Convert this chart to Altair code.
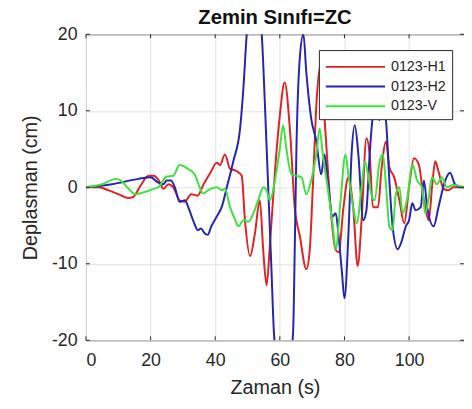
import altair as alt
import pandas as pd

# ---- data ----
series_names = ["0123-H1", "0123-H2", "0123-V"]
series_colors = ["#e02222", "#2424b4", "#3ee23e"]

t_h1 = [0, 4, 7, 10, 13, 14.5, 17, 19.4, 21, 22.5, 24, 25.5, 27, 29, 30.5, 32.6, 34.5, 36.4, 38.5, 40.5,
        41.5, 43, 44.6, 46.7, 48.2, 49.2, 50.8, 52.3, 53.8, 54.9, 55.9, 56.9, 58.5, 60, 61.5, 63.1, 64.6,
        66.2, 68.2, 69.2, 70.3, 71.3, 72.6, 74.1, 75.6, 77.2, 78.2, 79.7, 81.2, 82.7, 84.1, 85.3, 86.8,
        87.8, 88.8, 90.4, 91.4, 92.9, 93.9, 95.4, 97, 98.5, 100, 101.5, 103, 104.6, 106.1, 107.1, 108.1,
        109.1, 110.7, 112.2, 113.7, 117]
v_h1 = [0, 0, -0.4, -0.9, -1.4, -1.3, 0.3, 1.5, 1.5, 0.9, -0.2, 0.4, 0, -1.7, -1.9, -0.9, -1.1, 0.4, 1.9, 3.2,
        2.9, 4.3, 2.4, 2.1, 1.5, -4.3, -9.0, -6.0, -1.7, -8.5, -12.8, -7.7, 2.1, 9.4, 13.7, 7.7, -2.6,
        -6.4, -10.7, -8.5, 0.9, 10.7, 16.0, 7.3, -2.1, -8.1, -8.5, -2.6, 1.3, -2.6, -10.3, -4.3, 6.4,
        4.3, -2.6, -2.6, 2.1, 6.0, 2.6, 1.3, -1.7, -4.7, 0, 3.8, 3.0, -1.7, -4.3, 0, 3.4,
        2.1, -0.2, -0.4, 0, 0]

t_h2 = [0, 8, 16.3, 20, 22.4, 24, 25, 26.3, 27.5, 29, 30.6, 32, 33.6, 34.6, 35.6, 36.7, 37.7, 38.8, 40.5,
        42, 43.6, 45.6, 47.7, 48.7, 49.7, 52.2, 54.4, 55.4, 56.4, 57.4, 58.2, 61.1, 64.1, 64.6, 65.1, 66.2,
        67.3, 68.2, 69.7, 71.3, 72.8, 73.8, 74.8, 76.3, 77.3, 78.2, 79.2, 80, 81.2, 82.2, 83.2, 84.3, 85.8,
        86.8, 87.8, 88.8, 89.6, 90.8, 91.9, 92.9, 93.9, 94.9, 96.5, 97.5, 99, 100, 101, 102, 103.6, 104.6,
        105.6, 107.6, 109.1, 111.2, 112.7, 114.2, 115.7, 117]
v_h2 = [0, 0.4, 1.1, 1.3, 0.6, 0.4, 0.9, 0.9, 0, -1.9, -1.7, -3.0, -4.8, -5.6, -5.4, -6.0, -6.2, -5.1, -3.8,
        -2.6, 0, 3.4, 7.7, 12.8, 19.7, 27.0, 20.0, 10.7, 0, -10.7, -19.2, -29.0, -19.0, -8.5, 4.3, 17.0,
        20.0, 15.0, 9.0, 6.0, 1.7, 4.3, 1.0, -3.8, -3.4, -6.4, -11.0, -14.5, -6.4, 4.3, 8.1, 4.3, -4.3,
        -3.0, 4.3, 9.4, 10.8, 8.8, 10.8, 8.5, 0.9, -5.1, -8.1, -7.3, -5.1, -4.3, -2.1, -3.0, -2.6, 0.9,
        -2.6, -5.1, -2.6, 0.9, 1.9, 0.4, 0, 0]

t_v = [0, 5, 9.2, 10.7, 13.2, 15.3, 18.3, 21, 22.4, 25, 27, 29, 31.6, 33.6, 35, 36.2, 38.5, 40.5, 42, 43,
       44.6, 46.2, 47.2, 48.7, 50.3, 51.8, 53.3, 54.9, 55.9, 56.9, 58.5, 60, 61, 62, 63.6, 65.1, 66.7, 68.2,
       69.7, 71.3, 72.3, 73.3, 74.8, 76.3, 77.3, 78.8, 80.3, 81.2, 82.7, 83.8, 85.3, 86.3, 87.3, 88.3, 89.3,
       90.9, 91.9, 92.9, 93.9, 94.9, 95.9, 97, 98, 99.5, 101, 102.5, 104, 105, 106.1, 107.1, 108.6, 110.2,
       111.7, 113.7, 117]
v_v = [0, 0.4, 1.1, 0.9, -0.2, -0.9, -0.6, -0.2, 0, 1.4, 1.5, 2.9, 2.4, 1.7, 0.2, -0.8, -0.2, 0, -0.4, -0.2,
       -2.6, -4.3, -5.1, -4.3, -4.5, -3.4, -1.7, 0, -0.4, -1.7, 0.9, 5.1, 8.1, 5.1, 1.7, 1.5, 1.3, -0.9,
       0.9, 4.3, 7.7, 4.3, 0, -4.7, -8.1, -1.7, 4.3, 1.7, -2.6, -4.7, 0, 3.4, 1.7, -0.9, -1.7,
       3.4, 4.3, 0, -5.1, -5.6, -0.9, 0, -3.4, -1.3, 3.0, 0.9, 0, -3.4, -1.3, 1.3, 0.4, 1.3,
       0, 0.3, 0]

x_ticks = [0, 20, 40, 60, 80, 100]
y_ticks = [-20, -10, 0, 10, 20]
x_domain = [0, 117]
y_domain = [-20, 20]

title_text = "Zemin Sınıfı=ZC"
x_title = "Zaman (s)"
y_title = "Deplasman (cm)"

# ---- build table ----
frames = []
for name, tt, vv in zip(series_names, [t_h1, t_h2, t_v], [v_h1, v_h2, v_v]):
    frames.append(pd.DataFrame({"t": tt, "d": vv, "s": name}))
df = pd.concat(frames, ignore_index=True)

W, H = 383, 310
FONT = "Liberation Sans"
INK = "#262626"
GRID = "#e2e2e2"

xs = alt.Scale(domain=x_domain, nice=False, zero=False)
ys = alt.Scale(domain=y_domain, nice=False, zero=False)

axis_common = dict(ticks=False, labelFontSize=18, titleFontSize=20, gridColor=GRID, domain=False,
                   labelFont=FONT, titleFont=FONT, labelColor=INK, titleColor=INK,
                   titleFontWeight="normal", labelExpr="'' + datum.value")

lines = alt.Chart(df).mark_line(strokeWidth=2, interpolate="monotone", clip=True).encode(
    x=alt.X("t:Q", scale=xs, title=x_title,
            axis=alt.Axis(values=x_ticks, labelPadding=12, titlePadding=8, **axis_common)),
    y=alt.Y("d:Q", scale=ys, title=y_title,
            axis=alt.Axis(values=y_ticks, labelPadding=9, titlePadding=11, **axis_common)),
    color=alt.Color("s:N", scale=alt.Scale(domain=series_names, range=series_colors),
                    legend=alt.Legend(title=None, orient="none", legendX=236, legendY=16,
                                      symbolType="M-1,0H5", symbolSize=400, symbolStrokeWidth=2,
                                      labelFontSize=14.5, labelFont=FONT, labelColor=INK,
                                      fillColor="white", strokeColor=INK, padding=6,
                                      rowPadding=2, labelOffset=45)),
)

xt = pd.DataFrame({"x": x_ticks})
yt = pd.DataFrame({"y": y_ticks})
tick_len = 4
xticks_bottom = alt.Chart(xt).mark_rule(color=INK, strokeWidth=1).encode(
    x=alt.X("x:Q", scale=xs), y=alt.value(H - tick_len), y2=alt.value(H))
xticks_top = alt.Chart(xt).mark_rule(color=INK, strokeWidth=1).encode(
    x=alt.X("x:Q", scale=xs), y=alt.value(0), y2=alt.value(tick_len))
yticks_left = alt.Chart(yt).mark_rule(color=INK, strokeWidth=1).encode(
    y=alt.Y("y:Q", scale=ys), x=alt.value(0), x2=alt.value(tick_len))
yticks_right = alt.Chart(yt).mark_rule(color=INK, strokeWidth=1).encode(
    y=alt.Y("y:Q", scale=ys), x=alt.value(W - tick_len), x2=alt.value(W))

chart = alt.layer(lines, xticks_bottom, xticks_top, yticks_left, yticks_right).properties(
    width=W, height=H,
    title=alt.TitleParams(title_text, fontSize=20.5, fontWeight="bold", font=FONT, color="#111111",
                          anchor="middle", offset=-3),
    autosize=alt.AutoSizeParams(type="none"),
    padding={"left": 79, "top": 24, "right": 0, "bottom": 67},
    background="white",
).configure_view(
    stroke=INK, strokeWidth=1
)

chart.save("out.html", embed_options={"renderer": "svg", "actions": False})
